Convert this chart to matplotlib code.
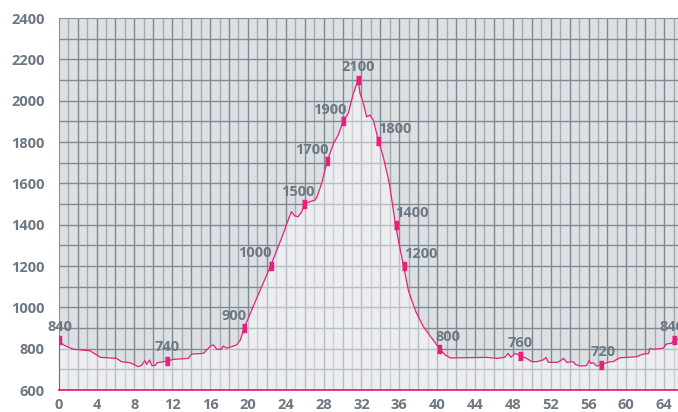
import numpy as np
import matplotlib
matplotlib.use("Agg")
import matplotlib.pyplot as plt

# elevation profile: distance (km) and elevation (m)
km = [0.0, 0.5, 1.55, 3.3, 3.85, 4.4, 6.1, 6.65, 7.55, 8.4, 8.75, 9.1, 9.3, 9.6,
      9.85, 10.2, 10.4, 11.5, 12.1, 13.7, 14.05, 15.3, 16.0, 16.35, 16.7, 17.2,
      17.4, 17.75, 18.3, 18.8, 19.2, 19.6, 20.55, 21.45, 22.4, 23.2, 23.75,
      24.25, 24.6, 24.95, 25.3, 25.7, 25.95, 26.55, 27.1, 27.3, 27.8, 28.4,
      29.05, 29.55, 30.1, 30.6, 31.15, 31.65, 31.85, 32.15, 32.55, 32.9, 33.25,
      33.8, 34.3, 34.75, 35.0, 35.6, 36.0, 36.45, 36.95, 37.3, 37.75, 38.55,
      39.45, 40.25, 40.85, 41.4, 45.25, 46.3, 47.15, 47.5, 47.8, 48.25, 48.8,
      49.45, 50.0, 50.5, 51.2, 51.5, 51.75, 52.65, 53.0, 53.35, 53.7, 54.4,
      54.6, 55.1, 55.8, 56.05, 56.25, 56.5, 56.85, 57.3, 57.75, 58.3, 58.6,
      59.0, 59.35, 61.1, 61.65, 62.35, 62.5, 62.85, 63.9, 64.25, 64.8, 65.0,
      65.5]
elev = [840, 818, 797, 790, 774, 758, 753, 737, 732, 713, 719, 742, 724, 745,
        718, 718, 732, 740, 748, 753, 774, 777, 810, 818, 797, 797,
        813, 802, 810, 818, 842, 900, 1003, 1100, 1200, 1293, 1358,
        1422, 1463, 1442, 1438, 1463, 1500, 1511, 1519, 1535, 1600, 1710,
        1793, 1834, 1903, 1938, 2035, 2100, 2035, 1995, 1922, 1930, 1906,
        1806, 1729, 1640, 1584, 1400, 1301, 1200, 1084, 1035, 979, 906,
        850, 800, 769, 755, 758, 753, 758, 777, 758, 777, 766,
        753, 737, 737, 745, 758, 734, 734, 740, 753, 734, 737,
        724, 716, 718, 742, 729, 732, 716, 720, 729, 737, 737,
        748, 756, 761, 772, 777, 802, 797, 802, 823, 826, 842,
        845]

# marked points and their captions
mark_km = [0.0, 11.5, 19.6, 22.4, 25.95, 28.4, 30.1, 31.65, 33.8, 35.6, 36.45,
           40.25, 48.8, 57.3, 65.0]
mark_elev = [840, 740, 900, 1200, 1500, 1710, 1903, 2100, 1806, 1400, 1200,
             800, 766, 720, 842]
mark_text = ["840", "740", "900", "1000", "1500", "1700", "1900", "2100",
             "1800", "1400", "1200", "800", "760", "720", "840"]
# caption offsets in pixels (dx, dy up)
label_dx = [1, 0, -10, -16, -6, -16, -14, 0, 16, 16, 17, 9, 0, 2, -2]
label_dy = [13, 14, 12, 13, 12, 11, 11, 13, 12, 12, 12, 12, 13, 13, 13]

pink = "#e8207c"
grey_txt = "#6d7782"

plt.rcParams["font.family"] = ["Open Sans", "DejaVu Sans"]

fig = plt.figure(figsize=(6.78, 4.12), dpi=100)
ax = fig.add_axes([58.7 / 678, 22 / 412, 1 - 58.7 / 678, 372 / 412])
ax.set_xlim(0, 65.46)
ax.set_ylim(600, 2400)
ax.set_facecolor("#dce0e3")

# grid: one line per km, one per 100 m
for k in range(1, 66):
    ax.axvline(k, color="#7d8893" if k % 2 == 0 else "#a2aab1", lw=1, zorder=1)
for h in range(700, 2400, 100):
    ax.axhline(h, color="#7f8a94", lw=1, zorder=1)

# lighter area under the profile
ax.fill_between(km, elev, 600, facecolor="white", alpha=0.45, edgecolor="none", zorder=2)
ax.plot([km[0], km[0]], [600, elev[0]], color=pink, lw=1.3, zorder=3)
ax.plot(km, elev, color=pink, lw=0.9, zorder=3)

rect = [(-0.5, -1), (0.5, -1), (0.5, 1), (-0.5, 1)]
ax.plot(mark_km, mark_elev, ls="none", marker=rect, ms=5.2, color=pink, zorder=4)

for x, y, t, dx, dy in zip(mark_km, mark_elev, mark_text, label_dx, label_dy):
    ax.annotate(t, (x, y), xytext=(dx * 0.72, dy * 0.72), textcoords="offset points",
                ha="center", va="center", fontsize=10.5, fontweight="bold",
                color=grey_txt, zorder=5, annotation_clip=False)

ax.set_xticks(range(0, 65, 4))
ax.set_yticks(range(600, 2401, 200))
ax.tick_params(length=0, labelsize=10.5, labelcolor=grey_txt)
ax.tick_params(axis="y", pad=10)
ax.tick_params(axis="x", pad=5.5)
for lab in ax.get_xticklabels() + ax.get_yticklabels():
    lab.set_fontweight("bold")

ax.spines["right"].set_visible(False)
ax.spines["top"].set_color("#8a939c")
ax.spines["left"].set_color("#8a939c")
ax.spines["bottom"].set_color(pink)
ax.spines["bottom"].set_linewidth(1.3)
ax.spines["bottom"].set_zorder(4)

fig.savefig("out.png", dpi=100)
